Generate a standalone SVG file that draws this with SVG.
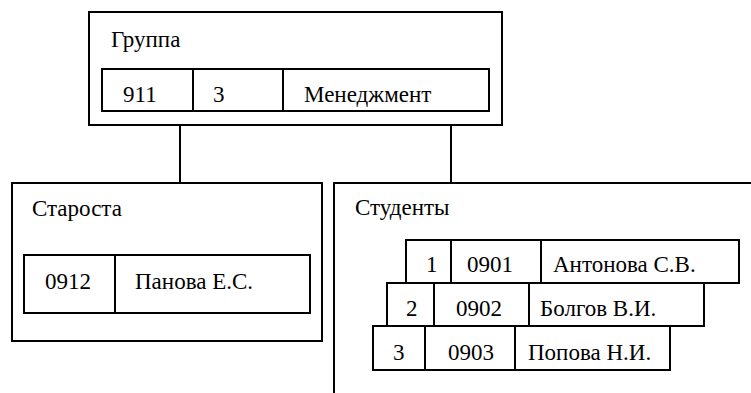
<svg xmlns="http://www.w3.org/2000/svg" width="751" height="393" viewBox="0 0 751 393">
  <rect width="751" height="393" fill="#fff"/>

  <!-- connectors from the group to its parts -->
  <g id="connectors" fill="none" stroke="#000" stroke-width="2">
    <line x1="180" y1="125" x2="180" y2="183"/>
    <line x1="451" y1="125" x2="451" y2="183"/>
  </g>

  <!-- group -->
  <g id="group">
    <g fill="none" stroke="#000" stroke-width="2">
      <rect x="89" y="12" width="413" height="113"/>
      <rect x="102" y="69" width="387" height="42"/>
      <line x1="193" y1="69" x2="193" y2="111"/>
      <line x1="283" y1="69" x2="283" y2="111"/>
    </g>
    <text x="111" y="47" font-family="Liberation Serif" font-size="23">Группа</text>
    <text x="123" y="102" font-family="Liberation Serif" font-size="23">911</text>
    <text x="213" y="102" font-family="Liberation Serif" font-size="23">3</text>
    <text x="304" y="102" font-family="Liberation Serif" font-size="23">Менеджмент</text>
  </g>

  <!-- monitor -->
  <g id="monitor">
    <g fill="none" stroke="#000" stroke-width="2">
      <rect x="12" y="183" width="310" height="158"/>
      <rect x="24" y="255" width="286" height="58"/>
      <line x1="115" y1="255" x2="115" y2="313"/>
    </g>
    <text x="32" y="216" font-family="Liberation Serif" font-size="23">Староста</text>
    <text x="45" y="289" font-family="Liberation Serif" font-size="23">0912</text>
    <text x="135" y="289" font-family="Liberation Serif" font-size="23">Панова Е.С.</text>
  </g>

  <!-- students (open frame running off the edges) -->
  <g id="students">
    <g fill="none" stroke="#000" stroke-width="2">
      <polyline points="334,393 334,183 751,183"/>
      <rect x="406" y="240" width="333" height="43"/>
      <line x1="451" y1="240" x2="451" y2="283"/>
      <line x1="541" y1="240" x2="541" y2="283"/>
      <rect x="387" y="283" width="317" height="43"/>
      <line x1="434" y1="283" x2="434" y2="326"/>
      <line x1="529" y1="283" x2="529" y2="326"/>
      <rect x="373" y="326" width="297" height="44"/>
      <line x1="425" y1="326" x2="425" y2="370"/>
      <line x1="515" y1="326" x2="515" y2="370"/>
    </g>
    <text x="355" y="215" font-family="Liberation Serif" font-size="23">Студенты</text>
    <text x="426" y="272" font-family="Liberation Serif" font-size="23">1</text>
    <text x="467" y="272" font-family="Liberation Serif" font-size="23">0901</text>
    <text x="553" y="272" font-family="Liberation Serif" font-size="23">Антонова С.В.</text>
    <text x="406" y="316" font-family="Liberation Serif" font-size="23">2</text>
    <text x="456" y="316" font-family="Liberation Serif" font-size="23">0902</text>
    <text x="540" y="316" font-family="Liberation Serif" font-size="23">Болгов В.И.</text>
    <text x="393" y="360" font-family="Liberation Serif" font-size="23">3</text>
    <text x="448" y="360" font-family="Liberation Serif" font-size="23">0903</text>
    <text x="528" y="360" font-family="Liberation Serif" font-size="23">Попова Н.И.</text>
  </g>
</svg>
